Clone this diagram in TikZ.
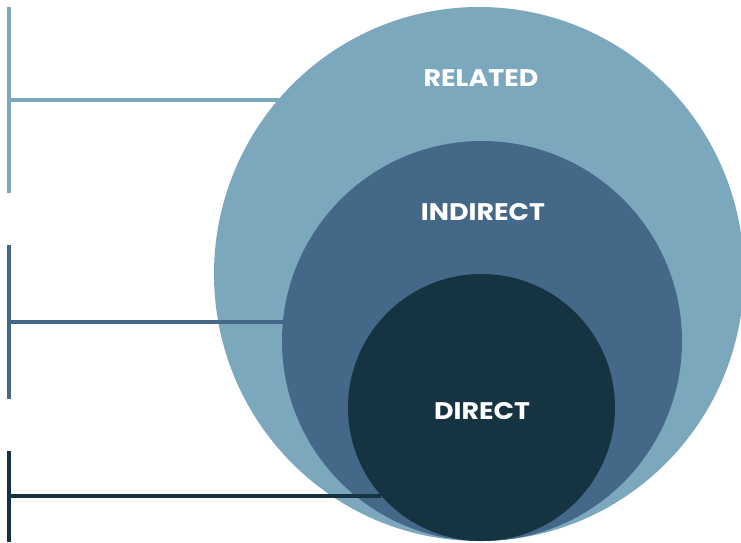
\documentclass[tikz,border=0pt]{standalone}
\usepackage{fontspec}
\setmainfont{Poppins}
\newfontfamily\tagfont[FakeStretch=1.12]{Poppins}
\usetikzlibrary{shapes.geometric}
\definecolor{relatedblue}{HTML}{7CA8BE}
\definecolor{indirectblue}{HTML}{436888}
\definecolor{directblue}{HTML}{153341}
\begin{document}
\begin{tikzpicture}[x = 1pt, y = -1pt]
			    \tikzstyle{disc}=[inner sep=0pt,outer sep=0pt,draw=none]
			    \tikzstyle{tag}=[text=white,font=\tagfont\fontsize{24}{24}\selectfont\bfseries]
			    \tikzstyle{bar}=[draw,line width = 3.2pt,-]
			    \useasboundingbox (0,0) rectangle (741,543);
			    \node[disc,ellipse,fill=relatedblue,minimum width=530pt,minimum height=534pt] (related) at (479,274) {};
			    \node[disc,circle,fill=indirectblue,minimum size=400pt] (indirect) at (482,341) {};
			    \node[disc,circle,fill=directblue,minimum size=267pt] (direct) at (481.5,407.5) {};
			    \node[tag] (relatedtext) at (481,78.5) {RELATED};
			    \node[tag] (indirecttext) at (483,212) {INDIRECT};
			    \node[tag] (directtext) at (482,411) {DIRECT};
			    \coordinate (relatedtop) at (9,7);
			    \coordinate (relatedbot) at (9,193);
			    \coordinate (relatedmid) at (9,100);
			    \coordinate (indirecttop) at (9,245);
			    \coordinate (indirectbot) at (9,399);
			    \coordinate (indirectmid) at (9,322);
			    \coordinate (directtop) at (9,451);
			    \coordinate (directbot) at (9,542);
			    \coordinate (directmid) at (9,496);
			    \draw[bar,relatedblue] (relatedtop) -- (relatedbot);
			    \draw[bar,relatedblue] (relatedmid) -- (related.138.84 |- relatedmid);
			    \draw[bar,indirectblue] (indirecttop) -- (indirectbot);
			    \draw[bar,indirectblue] (indirectmid) -- (indirect.174.55 |- indirectmid);
			    \draw[bar,directblue] (directtop) -- (directbot);
			    \draw[bar,directblue] (directmid) -- (direct.221.5 |- directmid);
			\end{tikzpicture}
\end{document}
